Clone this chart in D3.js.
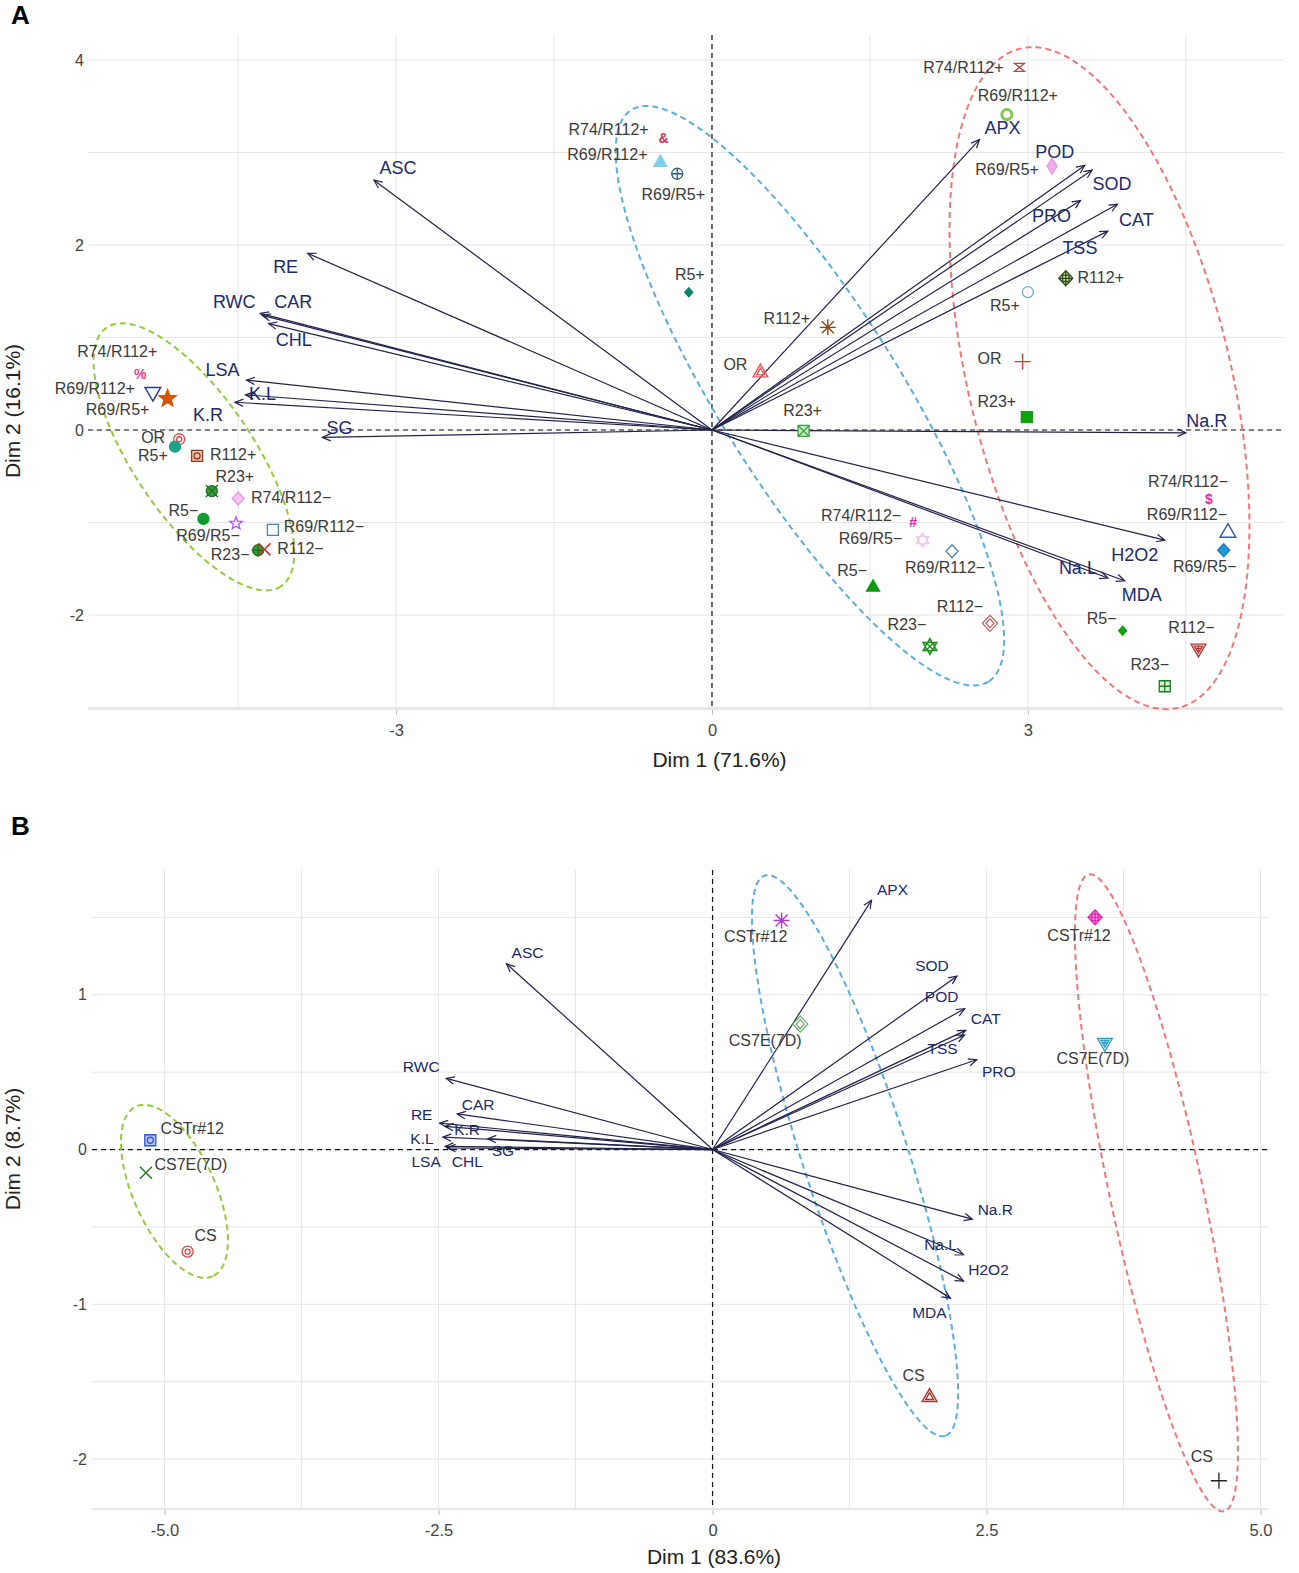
<!DOCTYPE html>
<html><head><meta charset="utf-8">
<script src="https://cdnjs.cloudflare.com/ajax/libs/d3/7.8.5/d3.min.js"></script>
<style>
html,body{margin:0;padding:0;background:#fff}
svg{display:block}
text{font-family:Arial,"Liberation Sans",Helvetica,sans-serif}
</style></head><body>
<svg id="chart" width="1299" height="1573"></svg>
<script>
// ================= PANEL A DATA =================
const varsA = ["ASC","RE","RWC","CAR","CHL","LSA","K.L","K.R","SG","APX","POD","SOD","PRO","CAT","TSS","Na.R","H2O2","Na.L","MDA"];
const varsA_dim1 = [-3.21,-3.84,-4.29,-4.27,-4.21,-4.42,-4.43,-4.53,-3.70,2.54,3.54,3.61,3.50,3.85,3.76,4.50,4.30,3.76,3.92];
const varsA_dim2 = [2.70,1.91,1.26,1.24,1.15,0.54,0.38,0.30,-0.08,3.14,2.86,2.81,2.48,2.44,2.15,-0.03,-1.19,-1.60,-1.63];

const treatmentsA = ["OR","R5+","R5−","R23+","R23−","R112+","R112−","R69/R5+","R69/R5−","R69/R112+","R69/R112−","R74/R112+","R74/R112−"];
const indA_g1_dim1 = [-5.06,-5.10,-4.83,-4.75,-4.31,-4.89,-4.25,-5.17,-4.52,-5.31,-4.17,-5.43,-4.50];
const indA_g1_dim2 = [-0.10,-0.18,-0.96,-0.66,-1.30,-0.28,-1.29,0.34,-1.01,0.41,-1.08,0.61,-0.74];
const indA_g2_dim1 = [0.46,-0.22,1.53,0.87,2.07,1.10,2.64,-0.33,2.00,-0.49,2.28,-0.46,1.91];
const indA_g2_dim2 = [0.62,1.49,-1.70,-0.01,-2.34,1.11,-2.09,2.77,-1.19,2.89,-1.31,3.16,-0.99];
const indA_g3_dim1 = [2.95,3.00,3.90,2.99,4.30,3.36,4.62,3.23,4.86,2.80,4.90,2.92,4.72];
const indA_g3_dim2 = [0.74,1.49,-2.17,0.14,-2.77,1.64,-2.36,2.85,-1.30,3.41,-1.11,3.92,-0.74];

// concentration ellipses (centre + two semi-axis vectors, data units)
const ellA_cx = [-4.92, 0.93, 3.68];
const ellA_cy = [-0.29, 0.37, 0.56];
const ellA_axis1 = [[0.828,-1.398],[1.696,-3.090],[0.751,-3.563]];
const ellA_axis2 = [[-0.472,-0.362],[-0.725,-0.516],[-1.210,-0.331]];

const ticksA_x = [-3, 0, 3];
const ticksA_xLabels = ["-3","0","3"];
const ticksA_y = [4, 2, 0, -2];
const ticksA_yLabels = ["4","2","0","-2"];

// ================= PANEL B DATA =================
const varsB = ["APX","ASC","SOD","POD","CAT","TSS","PRO","Na.R","Na.L","H2O2","MDA","RWC","CAR","RE","K.R","K.L","SG","LSA","CHL"];
const varsB_dim1 = [1.45,-1.88,2.23,2.30,2.31,2.30,2.41,2.37,2.29,2.29,2.17,-2.43,-2.33,-2.49,-2.44,-2.46,-2.05,-2.44,-2.42];
const varsB_dim2 = [1.61,1.20,1.12,0.91,0.77,0.74,0.58,-0.45,-0.68,-0.85,-0.96,0.46,0.23,0.17,0.15,0.08,0.07,0.02,0.01];

const treatmentsB = ["CS","CS7E(7D)","CSTr#12"];
const indB_g1_dim1 = [-4.79,-5.17,-5.13];
const indB_g1_dim2 = [-0.66,-0.15,0.06];
const indB_g2_dim1 = [1.98,0.80,0.63];
const indB_g2_dim2 = [-1.60,0.81,1.48];
const indB_g3_dim1 = [4.62,3.58,3.49];
const indB_g3_dim2 = [-2.14,0.69,1.50];

const ellB_cx = [-4.91, 1.30, 4.05];
const ellB_cy = [-0.27, -0.04, -0.28];
const ellB_axis1 = [[0.350,-0.548],[0.823,-1.810],[0.617,-2.057]];
const ellB_axis2 = [[-0.340,-0.109],[-0.456,-0.104],[-0.415,-0.062]];

const ticksB_x = [-5, -2.5, 0, 2.5, 5];
const ticksB_xLabels = ["-5.0","-2.5","0","2.5","5.0"];
const ticksB_y = [1, 0, -1, -2];
const ticksB_yLabels = ["1","0","-1","-2"];

// ================= STYLES / LAYOUT (kept apart from data) =================
const ellipseColors = ["#97c93d", "#5dade2", "#f1787a"];
// [shape, stroke colour, fill colour]
const symA_g1 = [["dcircle","#e0474c"],["circleF","#1fa187"],["circleF","#109a2a"],["circXF","#1f6f1f","#3aa03a"],["circPlusF","#1f6f1f","#3a9a3a"],["sqO","#8b3a2a","#f0c8a0"],["cross","#c0392b"],["starF","#d35400"],["star","#a855f7"],["triD","#2c3e8c"],["sq","#4682b4"],["txt%","#e83e8c"],["diaF","#e59be0","#f7c2f0"]];
const symA_g2 = [["dtri","#e05a5a"],["diaFs","#11806a","#11806a"],["triF","#0f9b0f"],["sqX","#3ca03c","#c9ecc9"],["davidX","#1e8c1e","#7cc87c"],["aster","#8b4513"],["ddia","#b5655f"],["circPlus","#2a5d7a"],["davidF","#f0c0f0","#f6d0f6"],["triF","#7fcdee"],["dia","#5a7fa0"],["txt&","#d9304f"],["txt#","#e22ca0"]];
const symA_g3 = [["plus","#d03a3a"],["circle","#6fb0c8"],["diaFs","#13a013","#13a013"],["sqF","#10a010"],["sqPlus","#1e7a1e","#d6f0d6"],["diaPlus","#2d4a1f","#d8e6a8"],["dtriD","#b03a3a"],["diaTall","#e59be0","#f5a8ec"],["diaF","#1a7fc0","#1a9ad8"],["ring","#86c84c"],["triBig","#3a5aa8"],["hourglass","#b04a4a"],["txt$","#e22ca0"]];
const symB_g1 = [["dcircle","#d04848"],["cross","#2a7a2a"],["sqO","#3550d0","#b8c8f8"]];
const symB_g2 = [["dtri","#a83232"],["ddia","#6ab06a"],["aster","#b03ad0"]];
const symB_g3 = [["plus","#222222"],["dtriD","#2aa0c8"],["diaPlus","#e020b0","#f4a8e4"]];

const labA_g1 = [[-26,-2],[-22,9],[-20,-9],[23,-15],[-28,4],[36,-2],[36,-1],[-50,11],[-28,12],[-58,-4],[51,-4],[-23,-22],[53,-1]];
const labA_g2 = [[-25,-8],[1,-18],[-21,-17],[-1,-21],[-23,-22],[-41,-9],[-30,-17],[-4,20],[-52,-2],[-53,-8],[-7,16],[-55,-8],[-52,-6]];
const labA_g3 = [[-33,-3],[-23,13],[-21,-13],[-30,-16],[-15,-22],[35,-1],[-7,-21],[-45,3],[-19,16],[11,-19],[-41,-18],[-56,0],[-21,-17]];
const labB_g1 = [[18,-16],[45,-9],[42,-12]];
const labB_g2 = [[-16,-22],[-35,16],[-26,16]];
const labB_g3 = [[-17,-25],[-12,16],[-16,18]];

const varLabA = [[24,-13],[-22,13],[-26,-12],[31,-14],[25,16],[-24,-11],[17,-1],[-27,12],[17,-10],[23,-12],[-30,-14],[20,13],[-29,15],[19,15],[-28,16],[21,-12],[-30,14],[-30,-11],[17,14]];
const varLabB = [[21,-11],[21,-11],[-25,-11],[-23,-12],[20,-12],[-22,13],[22,12],[23,-10],[-23,-10],[25,-12],[-21,14],[-25,-12],[21,-10],[-18,-9],[22,3],[-21,1],[15,12],[-19,15],[20,13]];

// ================= DRAWING =================
const svg = d3.select("#chart");
svg.append("rect").attr("width",1299).attr("height",1573).attr("fill","#fff");

function circ(r){return `M${r},0A${r},${r} 0 1,1 ${-r},0A${r},${r} 0 1,1 ${r},0Z`;}
function tri(r){return `M0,${-r}L${r*0.866},${r*0.5}L${-r*0.866},${r*0.5}Z`;}
function triD(r){return `M0,${r}L${r*0.866},${-r*0.5}L${-r*0.866},${-r*0.5}Z`;}
function sq(r){return `M${-r},${-r}H${r}V${r}H${-r}Z`;}
function dia(w,h){return `M0,${-h}L${w},0L0,${h}L${-w},0Z`;}
function plus(r){return `M${-r},0H${r}M0,${-r}V${r}`;}
function cross(r){return `M${-r},${-r}L${r},${r}M${-r},${r}L${r},${-r}`;}
function star(R,ri){let p="";for(let i=0;i<10;i++){const a=-Math.PI/2+i*Math.PI/5;const rr=i%2?ri:R;p+=(i?"L":"M")+(rr*Math.cos(a)).toFixed(2)+","+(rr*Math.sin(a)).toFixed(2);}return p+"Z";}

function drawSymbol(layer, spec, x, y){
  const [shape,color,fillc] = spec;
  const g = layer.append("g").attr("transform",`translate(${x},${y})`);
  const P = (d,fill,sw)=>g.append("path").attr("d",d).attr("fill",fill||"none").attr("stroke",color).attr("stroke-width",sw||1.3);
  if (shape.startsWith("txt")) {
    g.append("text").text(shape.slice(3)).attr("text-anchor","middle").attr("dy","0.36em")
      .attr("font-size",14).attr("font-weight","bold").attr("fill",color);
    return;
  }
  switch(shape){
    case "circle": P(circ(5.5)); break;
    case "circleF": P(circ(5.5),color); break;
    case "ring": P(circ(5),"none",3); break;
    case "dcircle": P(circ(5.5)); P(circ(2.5)); break;
    case "circPlus": P(circ(5.5)); P(plus(5.5)); break;
    case "circXF": P(circ(5.5),fillc); P(cross(6)); break;
    case "circPlusF": P(circ(5.5),fillc); P(plus(6.5)); break;
    case "tri": P(tri(7)); break;
    case "triBig": P(tri(9),"none",1.5); break;
    case "triF": P(tri(7.5),color); break;
    case "triD": P(triD(9),"none",1.5); break;
    case "dtri": P(tri(8.5),"none",1.4); P(tri(4.5),"none",1.4); break;
    case "dtriD": P(triD(8.5),"none",1.4); P(triD(4.5),"none",1.4); P(plus(3)); break;
    case "sq": P(sq(5.5)); break;
    case "sqF": P(sq(5.5),color); break;
    case "sqX": P(sq(5.5),fillc); P(cross(5.5)); break;
    case "sqPlus": P(sq(5.5),fillc); P(plus(5.5)); break;
    case "sqO": P(sq(5.5),fillc); P(circ(3)); break;
    case "dia": P(dia(6,6.5)); break;
    case "diaF": P(dia(6,6.5),fillc); break;
    case "diaFs": P(dia(4,4.5),fillc); break;
    case "diaTall": P(dia(5,8),fillc); break;
    case "diaPlus": P(dia(7,7.5),fillc); P(plus(7)); P(sq(3.2)); break;
    case "ddia": P(dia(7.5,8)); P(dia(4,4.5)); break;
    case "star": P(star(6.5,2.8)); break;
    case "starF": P(star(9,3.8),color); break;
    case "davidF": P(tri(7.5)+triD(7.5),fillc,1); break;
    case "davidX": P(tri(8)+triD(8),fillc,1.4); P(cross(3.5)); break;
    case "plus": P(plus(8)); break;
    case "cross": P(cross(6),"none",1.5); break;
    case "aster": P(plus(8)+cross(6),"none",1.4); break;
    case "hourglass": P(`M-5,-4H5L-5,4H5Z`); break;
  }
}

function drawPanel(cfg){
  const x = d3.scaleLinear().domain(cfg.xDomain).range([cfg.left, cfg.right]);
  const y = d3.scaleLinear().domain(cfg.yDomain).range([cfg.bottom, cfg.top]);
  const g = svg.append("g");

  // grid
  const grid = g.append("g").attr("stroke","#e6e6e6").attr("stroke-width",1);
  cfg.xMinor.concat(cfg.xTicks).forEach(v=>grid.append("line").attr("x1",x(v)).attr("x2",x(v)).attr("y1",cfg.top).attr("y2",cfg.bottom));
  cfg.yMinor.concat(cfg.yTicks).forEach(v=>grid.append("line").attr("x1",cfg.left).attr("x2",cfg.right).attr("y1",y(v)).attr("y2",y(v)));
  g.append("line").attr("x1",cfg.left).attr("x2",cfg.right).attr("y1",cfg.bottom+1).attr("y2",cfg.bottom+1).attr("stroke","#e8e8e8").attr("stroke-width",2);

  // axis tick labels (via d3 axes, domain hidden)
  const xAxis = d3.axisBottom(x).tickValues(cfg.xTicks).tickFormat((d,i)=>cfg.xLabels[i]).tickSize(5).tickPadding(9);
  const ax = g.append("g").attr("transform",`translate(0,${cfg.bottom+2})`).call(xAxis);
  ax.select(".domain").remove();
  ax.selectAll("line").attr("stroke","#bbb");
  ax.selectAll("text").attr("font-size",16.5).attr("fill","#444").attr("font-family","Arial, 'Liberation Sans', sans-serif");
  const yAxis = d3.axisLeft(y).tickValues(cfg.yTicks).tickFormat((d,i)=>cfg.yLabels[i]).tickSize(0).tickPadding(cfg.yPad);
  const ay = g.append("g").attr("transform",`translate(${cfg.left},0)`).call(yAxis);
  ay.select(".domain").remove();
  ay.selectAll("text").attr("font-size",16).attr("fill","#444").attr("font-family","Arial, 'Liberation Sans', sans-serif");

  // zero lines
  g.append("line").attr("x1",cfg.left).attr("x2",cfg.right).attr("y1",y(0)).attr("y2",y(0)).attr("stroke","#111").attr("stroke-width",1.2).attr("stroke-dasharray","5,4");
  g.append("line").attr("x1",x(0)).attr("x2",x(0)).attr("y1",cfg.top).attr("y2",cfg.bottom).attr("stroke","#111").attr("stroke-width",1.2).attr("stroke-dasharray","5,4");

  // ellipses
  const lineGen = d3.line().x(d=>x(d[0])).y(d=>y(d[1])).curve(d3.curveLinearClosed);
  cfg.ellCx.forEach((cx,i)=>{
    const pts = d3.range(0,200).map(k=>{const t=k/200*2*Math.PI;
      return [cx+Math.cos(t)*cfg.ellA1[i][0]+Math.sin(t)*cfg.ellA2[i][0], cfg.ellCy[i]+Math.cos(t)*cfg.ellA1[i][1]+Math.sin(t)*cfg.ellA2[i][1]];});
    g.append("path").attr("d",lineGen(pts)).attr("fill","none").attr("stroke",ellipseColors[i]).attr("stroke-width",2).attr("stroke-dasharray","6,4");
  });

  // variable arrows
  const arr = g.append("g");
  cfg.vars.forEach((v,i)=>{
    const x0=x(0), y0=y(0), x1=x(cfg.vx[i]), y1=y(cfg.vy[i]);
    arr.append("line").attr("x1",x0).attr("y1",y0).attr("x2",x1).attr("y2",y1).attr("stroke",cfg.arrowColor).attr("stroke-width",1.2);
    const ang = Math.atan2(y1-y0,x1-x0), L=9, a=0.42;
    const p1=[x1-L*Math.cos(ang-a), y1-L*Math.sin(ang-a)], p2=[x1-L*Math.cos(ang+a), y1-L*Math.sin(ang+a)];
    arr.append("path").attr("d",`M${p1[0]},${p1[1]}L${x1},${y1}L${p2[0]},${p2[1]}`).attr("fill","none").attr("stroke",cfg.arrowColor).attr("stroke-width",1.2);
    arr.append("text").text(v).attr("x",x1+cfg.varLab[i][0]).attr("y",y1+cfg.varLab[i][1]).attr("text-anchor","middle").attr("dy","0.36em")
      .attr("font-size",cfg.varFont).attr("fill","#1c2a6b");
  });

  // individuals
  const pl = g.append("g");
  cfg.groups.forEach(grp=>{
    cfg.treatments.forEach((t,i)=>{
      const px=x(grp.dx[i]), py=y(grp.dy[i]);
      drawSymbol(pl, grp.sym[i], px, py);
      pl.append("text").text(t).attr("x",px+grp.lab[i][0]).attr("y",py+grp.lab[i][1]).attr("text-anchor","middle").attr("dy","0.36em")
        .attr("font-size",cfg.indFont).attr("fill","#3a3a3a");
    });
  });

  // titles
  g.append("text").text(cfg.xTitle).attr("x",(cfg.left+cfg.right)/2+34).attr("y",cfg.xTitleY).attr("text-anchor","middle").attr("font-size",21).attr("fill","#222");
  g.append("text").text(cfg.yTitle).attr("transform",`translate(20,${cfg.yTitleY}) rotate(-90)`).attr("text-anchor","middle").attr("font-size",21).attr("fill","#222");
  g.append("text").text(cfg.letter).attr("x",11).attr("y",cfg.letterY).attr("font-size",26).attr("font-weight","bold").attr("fill","#000");
}

drawPanel({
  letter:"A", letterY:24,
  left:88, right:1283, top:35, bottom:708,
  xDomain:[-5.926,5.423], yDomain:[-3.005,4.27],
  xTicks:ticksA_x, xLabels:ticksA_xLabels, xMinor:[-4.5,-1.5,1.5,4.5],
  yTicks:ticksA_y, yLabels:ticksA_yLabels, yMinor:[-3,-1,1,3], yPad:4,
  ellCx:ellA_cx, ellCy:ellA_cy, ellA1:ellA_axis1, ellA2:ellA_axis2,
  vars:varsA, vx:varsA_dim1, vy:varsA_dim2, varLab:varLabA, varFont:18, arrowColor:"#22224a",
  treatments:treatmentsA, indFont:16,
  groups:[{dx:indA_g1_dim1,dy:indA_g1_dim2,sym:symA_g1,lab:labA_g1},
          {dx:indA_g2_dim1,dy:indA_g2_dim2,sym:symA_g2,lab:labA_g2},
          {dx:indA_g3_dim1,dy:indA_g3_dim2,sym:symA_g3,lab:labA_g3}],
  xTitle:"Dim 1 (71.6%)", xTitleY:767, yTitle:"Dim 2 (16.1%)", yTitleY:411
});

drawPanel({
  letter:"B", letterY:835,
  left:92, right:1268, top:870, bottom:1508,
  xDomain:[-5.662,5.068], yDomain:[-2.316,1.806],
  xTicks:ticksB_x, xLabels:ticksB_xLabels, xMinor:[-3.75,-1.25,1.25,3.75],
  yTicks:ticksB_y, yLabels:ticksB_yLabels, yMinor:[-1.5,-0.5,0.5,1.5], yPad:5,
  ellCx:ellB_cx, ellCy:ellB_cy, ellA1:ellB_axis1, ellA2:ellB_axis2,
  vars:varsB, vx:varsB_dim1, vy:varsB_dim2, varLab:varLabB, varFont:15.5, arrowColor:"#22224a",
  treatments:treatmentsB, indFont:16,
  groups:[{dx:indB_g1_dim1,dy:indB_g1_dim2,sym:symB_g1,lab:labB_g1},
          {dx:indB_g2_dim1,dy:indB_g2_dim2,sym:symB_g2,lab:labB_g2},
          {dx:indB_g3_dim1,dy:indB_g3_dim2,sym:symB_g3,lab:labB_g3}],
  xTitle:"Dim 1 (83.6%)", xTitleY:1564, yTitle:"Dim 2 (8.7%)", yTitleY:1149
});
</script>
</body></html>
